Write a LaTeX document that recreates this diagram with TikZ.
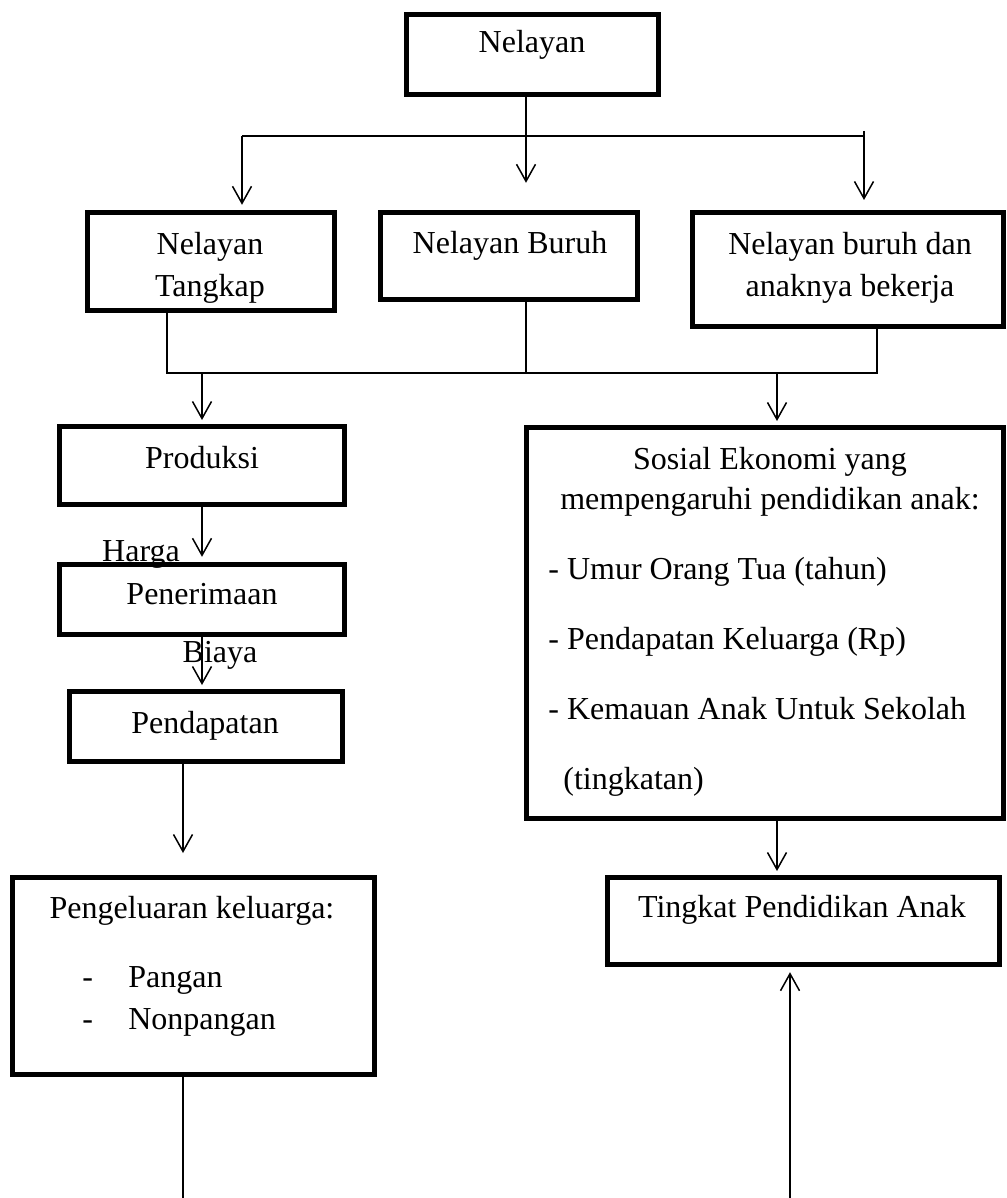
\documentclass[tikz,border=0pt]{standalone}
\usepackage{fontspec}
\setmainfont{Liberation Serif}
\usepackage{tikz}
\usetikzlibrary{arrows.meta}

\begin{document}
\begin{tikzpicture}[
  x=0.5pt, y=-0.5pt,
  box/.style={
    rectangle,
    draw,
    line width=2.3pt,
    inner sep=0pt
  },
  txt/.style={
    inner sep=0pt,
    font=\fontsize{16}{21}\selectfont
  },
  arrow/.style={
    -{Straight Barb[length=8.5pt, width=9.5pt]},
    line width=0.75pt
  },
  line/.style={
    line width=0.75pt
  }
]
\useasboundingbox (0,0) rectangle (1006,1198);

% =========================================================
% Boxes
% =========================================================
\node[box, minimum width=126.2pt, minimum height=40.2pt] (nelayan) at (532.5, 54.5) {};

\node[box, minimum width=123.7pt, minimum height=49.2pt] (tangkap) at (211, 261.5) {};
\node[box, minimum width=128.7pt, minimum height=43.7pt] (buruh)   at (509, 256) {};
\node[box, minimum width=155.7pt, minimum height=57.2pt] (bekerja) at (848, 269.5) {};

\node[box, minimum width=142.7pt, minimum height=39.2pt] (produksi)   at (202, 465.5) {};
\node[box, minimum width=142.7pt, minimum height=35.2pt] (penerimaan) at (202, 599.5) {};
\node[box, minimum width=136.7pt, minimum height=35.2pt] (pendapatan) at (206, 726.5) {};
\node[box, minimum width=181.2pt, minimum height=98.7pt] (pengeluaran) at (193.5, 976) {};

\node[box, minimum width=238.7pt, minimum height=195.7pt] (sosial)  at (765, 623) {};
\node[box, minimum width=196.2pt, minimum height=43.7pt]  (tingkat) at (803.5, 921) {};

% =========================================================
% Texts
% =========================================================
\node[txt, anchor=base]  (nelayanT) at (532, 53) {Nelayan};
\node[txt, anchor=north, align=center] (tangkapT) at (210, 231.4) {Nelayan\\Tangkap};
\node[txt, anchor=base]  (buruhT) at (510, 253) {Nelayan Buruh};
\node[txt, anchor=north, align=center] (bekerjaT) at (850, 231.4) {Nelayan buruh dan\\anaknya bekerja};

\node[txt, anchor=base] (produksiT)   at (202, 468) {Produksi};
\node[txt, anchor=base] (penerimaanT) at (202, 604) {Penerimaan};
\node[txt, anchor=base] (pendapatanT) at (205, 733) {Pendapatan};

\node[txt, anchor=base] (pengeluaranT) at (192, 918) {Pengeluaran keluarga:};
\node[txt, anchor=north west, align=left] (pengeluaranL) at (82, 966.5)
  {\makebox[23pt][l]{-}Pangan\\\makebox[23pt][l]{-}Nonpangan};

\node[txt, anchor=north, align=center, font=\fontsize{16}{20}\selectfont] (sosialT) at (770, 446.4)
  {Sosial Ekonomi yang\\mempengaruhi pendidikan anak:};
\node[txt, anchor=north west, align=left, font=\fontsize{16}{20}\selectfont] (sosialL) at (548, 556.4)
  {- Umur Orang Tua (tahun)\\[15pt]
   - Pendapatan Keluarga (Rp)\\[15pt]
   - Kemauan Anak Untuk Sekolah\\[15pt]
   \hspace{7.5pt}(tingkatan)};

\node[txt, anchor=base] (tingkatT) at (802, 917) {Tingkat Pendidikan Anak};

% flow labels
\node[txt, anchor=base] (harga) at (141, 561) {Harga};
\node[txt, anchor=base] (biaya) at (220, 662) {Biaya};

% =========================================================
% Connectors
% =========================================================
\coordinate (fork1)  at (526, 136);
\coordinate (fork1L) at (242, 136);
\coordinate (fork1R) at (864, 136);
\coordinate (fork2L) at (167, 373);
\coordinate (fork2R) at (877, 373);
\coordinate (fork2M) at (777, 373);
\coordinate (leftdrop)  at (183, 1198);
\coordinate (rightrise) at (790, 1198);

% Nelayan split into three groups
\draw[arrow, shorten >=13.6pt] (nelayan.south -| fork1) -- (buruh.north -| fork1);
\draw[line] (fork1L) -- (fork1R);
\draw[arrow, shorten >=2.6pt] (fork1L) -- (tangkap.north -| fork1L);
\draw[arrow, shorten >=5pt] ([yshift=2.5pt]fork1R) -- (bekerja.north -| fork1R);

% groups joined again
\draw[line] (tangkap.south -| fork2L) -- (fork2L) -- (fork2R) -- (bekerja.south -| fork2R);
\draw[line] (buruh.south -| fork1) -- (fork1 |- fork2L);
\draw[arrow, shorten >=2pt] (fork2L -| produksi) -- (produksi);
\draw[arrow, shorten >=2pt] (fork2M) -- (fork2M |- sosial.north);

% left column
\draw[arrow, shorten >=2.6pt] (produksi) -- (penerimaan);
\draw[arrow, shorten >=2pt] (penerimaan.south) -- (penerimaan.south |- pendapatan.north);
\draw[arrow, shorten >=11pt] (pendapatan.south -| leftdrop) -- (pengeluaran.north -| leftdrop);
\draw[line] (pengeluaran.south -| leftdrop) -- (leftdrop);

% right column
\draw[arrow, shorten >=2pt] (sosial.south -| fork2M) -- (tingkat.north -| fork2M);
\draw[arrow, shorten >=2.6pt] (rightrise) -- (rightrise |- tingkat.south);

\end{tikzpicture}
\end{document}
